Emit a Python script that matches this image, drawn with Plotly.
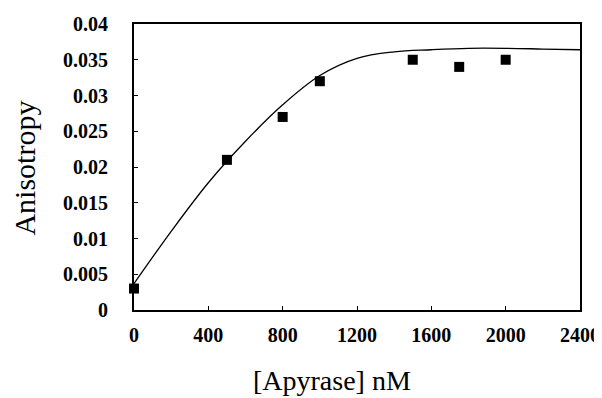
import plotly.graph_objects as go

# measured data points
apyrase_nM = [0, 500, 800, 1000, 1500, 1750, 2000]
anisotropy = [0.003, 0.021, 0.027, 0.032, 0.035, 0.034, 0.035]

# fitted curve
fit_x = [0, 200, 400, 600, 800, 1000, 1200, 1400, 1600, 1800, 2000, 2200, 2400]
fit_y = [0.0037, 0.0110, 0.0178, 0.0236, 0.0287, 0.0328, 0.0352, 0.0361, 0.0364,
         0.0366, 0.0366, 0.0365, 0.0364]

x_ticks = [0, 400, 800, 1200, 1600, 2000, 2400]
x_ticklabels = ["0", "400", "800", "1200", "1600", "2000", "2400"]
y_ticks = [0, 0.005, 0.01, 0.015, 0.02, 0.025, 0.03, 0.035, 0.04]
y_ticklabels = ["0", "0.005", "0.01", "0.015", "0.02", "0.025", "0.03", "0.035", "0.04"]

x_title = "[Apyrase] nM"
y_title = "Anisotropy"

SERIF = "Liberation Serif, Times New Roman, DejaVu Serif, serif"

fig = go.Figure()
fig.add_trace(go.Scatter(x=fit_x, y=fit_y, mode="lines",
                         line=dict(color="black", width=1.3, shape="spline", smoothing=1.0),
                         hoverinfo="skip", showlegend=False))
fig.add_trace(go.Scatter(x=apyrase_nM, y=anisotropy, mode="markers",
                         marker=dict(symbol="square", size=10, color="black"),
                         showlegend=False, cliponaxis=False))

tickfont = dict(family=SERIF, size=20, color="black")
bold = lambda labels: ["<b>%s</b>" % t for t in labels]

# the page body has an 8px default margin, so the figure is drawn 8px smaller
fig.update_layout(
    width=594, height=390,
    margin=dict(l=126, r=22, t=16, b=88, autoexpand=False),
    paper_bgcolor="white", plot_bgcolor="white",
    xaxis=dict(range=[0, 2400], tickvals=x_ticks, ticktext=bold(x_ticklabels), ticks="inside", ticklen=4,
               tickcolor="black", tickwidth=1, showgrid=False, zeroline=False, showline=True,
               linecolor="black", linewidth=2, mirror=True, tickfont=tickfont,
               ticklabelstandoff=6, automargin=False),
    yaxis=dict(range=[0, 0.04], tickvals=y_ticks, ticktext=bold(y_ticklabels), ticks="inside", ticklen=4,
               tickcolor="black", tickwidth=1, showgrid=False, zeroline=False, showline=True,
               linecolor="black", linewidth=2, mirror=True, tickfont=tickfont,
               ticklabelstandoff=20, automargin=False),
    annotations=[
        dict(text=x_title, xref="paper", yref="paper", x=0.444, y=-0.245, showarrow=False,
             xanchor="center", yanchor="middle",
             font=dict(family=SERIF, size=28, color="black")),
        dict(text=y_title, xref="paper", yref="paper", x=-0.245, y=0.497, showarrow=False,
             textangle=-90, xanchor="center", yanchor="middle",
             font=dict(family=SERIF, size=30, color="black")),
    ],
)
fig.write_html("out.html")
